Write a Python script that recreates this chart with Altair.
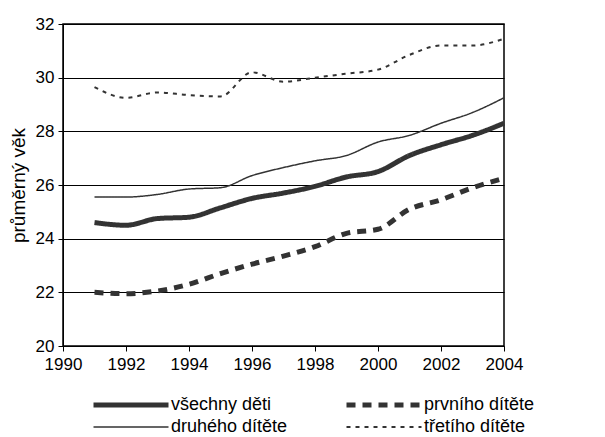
import altair as alt
import pandas as pd

years = list(range(1991, 2005))
vsechny = [24.6, 24.5, 24.75, 24.8, 25.15, 25.5, 25.7, 25.95, 26.3, 26.5, 27.1, 27.5, 27.85, 28.3]
prvniho = [22.0, 21.95, 22.05, 22.3, 22.7, 23.05, 23.35, 23.7, 24.2, 24.35, 25.1, 25.45, 25.9, 26.25]
druheho = [25.55, 25.55, 25.65, 25.85, 25.9, 26.35, 26.65, 26.9, 27.1, 27.6, 27.85, 28.3, 28.7, 29.25]
tretiho = [29.65, 29.25, 29.45, 29.35, 29.3, 30.2, 29.85, 30.0, 30.15, 30.3, 30.85, 31.2, 31.2, 31.45]

names = ["všechny děti", "prvního dítěte", "druhého dítěte", "třetího dítěte"]
series = [vsechny, prvniho, druheho, tretiho]

rows = []
for n, vals in zip(names, series):
    for y, v in zip(years, vals):
        rows.append({"rok": y, "vek": v, "serie": n})
df = pd.DataFrame(rows)

FONT = "Liberation Sans"

chart = alt.Chart(df).mark_line(interpolate="monotone", color="#333333").encode(
    x=alt.X("rok:Q", scale=alt.Scale(domain=[1990, 2004], nice=False),
            axis=alt.Axis(title=None, values=list(range(1990, 2005, 2)), format="d",
                          grid=False, tickSize=5, tickColor="black", domainColor="black",
                          labelFontSize=17, labelColor="black", labelPadding=5,
                          labelFlush=False, labelOverlap=False)),
    y=alt.Y("vek:Q", scale=alt.Scale(domain=[20, 32], nice=False, zero=False),
            axis=alt.Axis(title="průměrný věk", values=list(range(20, 33, 2)),
                          grid=True, gridColor="black", gridWidth=1, gridOpacity=1,
                          tickSize=5, tickColor="black", domainColor="black",
                          labelFontSize=17, labelColor="black", labelPadding=4,
                          labelFlush=False,
                          titleFontSize=19, titleFontWeight="normal", titleColor="black",
                          titlePadding=7)),
    strokeWidth=alt.StrokeWidth("serie:N",
                                scale=alt.Scale(type="ordinal", domain=names, range=[5, 5, 1.5, 2]),
                                legend=alt.Legend(title=None)),
    strokeDash=alt.StrokeDash("serie:N",
                              scale=alt.Scale(domain=names, range=[[1, 0], [9, 7], [1, 0], [4, 5]]),
                              legend=alt.Legend(title=None)),
    order="rok:Q",
).properties(
    width=441, height=322,
    padding={"left": 55, "top": 16, "right": 93, "bottom": 91},
    autosize=alt.AutoSizeParams(type="none"),
).configure_view(
    stroke="black", strokeWidth=1.5
).configure_legend(
    orient="none", legendX=58, legendY=371, columns=2, direction="horizontal",
    symbolType="M-5,0H5", symbolSize=225, symbolStrokeColor="#333333",
    labelFontSize=18, labelFont=FONT, labelColor="black", labelOffset=30,
    columnPadding=48, rowPadding=3, labelLimit=300, padding=0
).configure_axis(
    labelFont=FONT, titleFont=FONT
)

chart.save("out.html", embed_options={"renderer": "svg", "actions": False})
